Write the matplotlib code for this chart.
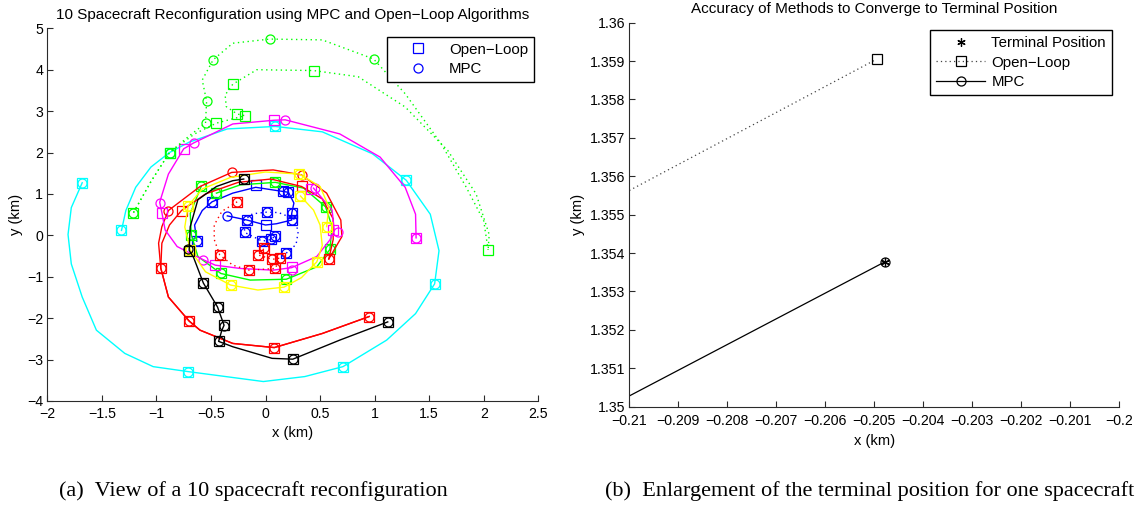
import matplotlib
matplotlib.use("Agg")
import matplotlib.pyplot as plt
from matplotlib.lines import Line2D

plt.rcParams['font.family'] = ['Liberation Sans', 'DejaVu Sans']
plt.rcParams['axes.unicode_minus'] = True

# ------------------------------------------------------------------
# Left panel data (km)
# ------------------------------------------------------------------
# spacecraft 1 (blue, solid)
blue1_path = [(-0.63, -0.14), (-0.65, 0.25), (-0.58, 0.60), (-0.49, 0.81), (-0.30, 1.02),
              (-0.09, 1.16), (0.16, 1.06), (0.21, 1.04), (0.26, 0.78), (0.24, 0.53),
              (0.24, 0.37), (0.10, 0.28), (0.00, 0.25), (-0.17, 0.37), (-0.35, 0.47)]
blue1_sq = [(-0.63, -0.14), (-0.49, 0.81), (-0.09, 1.22), (0.16, 1.06), (0.21, 1.04),
            (0.24, 0.53), (0.24, 0.37), (0.00, 0.25), (-0.17, 0.37)]
blue1_ci = [(-0.63, -0.14), (-0.49, 0.81), (0.16, 1.06), (0.21, 1.04), (0.24, 0.53),
            (0.24, 0.37), (-0.17, 0.37), (-0.35, 0.47)]

# spacecraft 2 (green, solid)
green2_path = [(-0.45, 1.02), (-0.23, 1.22), (0.09, 1.28), (0.35, 1.14), (0.55, 0.69),
               (0.61, 0.21), (0.59, -0.34), (0.47, -0.76), (0.19, -1.06), (-0.14, -1.08),
               (-0.41, -0.92), (-0.62, -0.51), (-0.68, 0.01), (-0.69, 0.53), (-0.59, 1.18)]
green2_sq = [(-0.45, 1.02), (0.09, 1.28), (0.55, 0.69), (0.59, -0.34), (0.19, -1.06),
             (-0.41, -0.92), (-0.68, 0.01), (-0.59, 1.18)]
green2_ci = [(-0.45, 1.02), (0.09, 1.28), (0.55, 0.69), (0.59, -0.34), (0.19, -1.06),
             (-0.41, -0.92), (-0.68, 0.01), (-0.59, 1.18)]

# spacecraft 3 (red, solid)
red3_ol_path = [(0.95, -1.96), (0.52, -2.37), (0.08, -2.71), (-0.30, -2.61), (-0.60, -2.29),
                (-0.70, -2.07), (-0.89, -1.49), (-0.96, -0.79), (-0.95, -0.19), (-0.88, 0.25),
                (-0.77, 0.60), (-0.55, 1.00), (-0.25, 1.28), (0.05, 1.36), (0.33, 1.18),
                (0.52, 0.88), (0.62, 0.40), (0.62, -0.10), (0.58, -0.57)]
red3_mpc_path = [(0.95, -1.96), (0.52, -2.37), (0.08, -2.71), (-0.30, -2.61), (-0.60, -2.29),
                 (-0.70, -2.07), (-0.89, -1.49), (-0.96, -0.79), (-0.98, -0.19), (-0.95, 0.21),
                 (-0.89, 0.60), (-0.60, 1.18), (-0.31, 1.52), (0.07, 1.58), (0.33, 1.46),
                 (0.56, 1.02), (0.69, 0.37), (0.70, -0.03), (0.58, -0.57)]
red3_sq = [(0.95, -1.96), (0.08, -2.71), (-0.70, -2.07), (-0.96, -0.79), (-0.77, 0.60),
           (0.33, 1.18), (0.58, -0.57)]
red3_ci = [(0.95, -1.96), (0.08, -2.71), (-0.70, -2.07), (-0.96, -0.79), (-0.89, 0.60),
           (-0.31, 1.52), (0.33, 1.46), (0.58, -0.57)]

# spacecraft 4 (cyan, solid)
cyan4_path = [(-1.68, 1.27), (-1.78, 0.67), (-1.81, 0.02), (-1.78, -0.69), (-1.68, -1.49),
              (-1.55, -2.29), (-1.29, -2.85), (-1.03, -3.17), (-0.71, -3.29), (-0.02, -3.53),
              (0.36, -3.41), (0.71, -3.17), (1.11, -2.53), (1.375, -1.89), (1.55, -1.17),
              (1.59, -0.37), (1.51, 0.51), (1.29, 1.33), (0.98, 1.97), (0.52, 2.50),
              (0.09, 2.63), (-0.35, 2.57), (-0.70, 2.25), (-0.88, 2.00), (-1.05, 1.65),
              (-1.19, 1.16), (-1.28, 0.60), (-1.32, 0.12)]
cyan4_sq = [(-1.68, 1.27), (-0.71, -3.29), (0.71, -3.17), (1.55, -1.17), (1.29, 1.33),
            (0.09, 2.63), (-0.88, 2.00), (-1.32, 0.12)]
cyan4_ci = [(-1.68, 1.27), (-0.71, -3.29), (0.71, -3.17), (1.55, -1.17), (1.29, 1.33),
            (0.09, 2.63), (-0.88, 2.00), (-1.32, 0.12)]

# spacecraft 5 (magenta, solid)
magenta5_path = [(1.38, -0.06), (1.375, 0.51), (1.28, 1.16), (1.05, 1.89), (0.68, 2.45),
                 (0.18, 2.79), (0.08, 2.78), (-0.30, 2.69), (-0.66, 2.23), (-0.75, 2.09),
                 (-0.89, 1.48), (-0.97, 0.80), (-0.95, 0.55), (-0.92, 0.13), (-0.81, -0.27),
                 (-0.57, -0.59), (-0.46, -0.72), (-0.23, -0.80), (0.07, -0.84), (0.24, -0.78),
                 (0.47, -0.51), (0.59, -0.11), (0.63, 0.13), (0.61, 0.61), (0.44, 1.14)]
magenta5_sq = [(1.38, -0.06), (0.08, 2.78), (-0.75, 2.09), (-0.95, 0.55), (-0.46, -0.72),
               (0.24, -0.76), (0.62, 0.13), (0.42, 1.12)]
magenta5_ci = [(1.38, -0.06), (0.18, 2.79), (-0.66, 2.23), (-0.97, 0.78), (-0.57, -0.59),
               (0.24, -0.84), (0.66, 0.07), (0.45, 1.14)]

# spacecraft 6 (yellow, solid)
yellow6_path = [(0.32, 0.95), (0.44, 0.61), (0.50, 0.25), (0.52, -0.25), (0.47, -0.64),
                (0.33, -1.02), (0.17, -1.25), (-0.07, -1.32), (-0.32, -1.20), (-0.55, -0.88),
                (-0.69, -0.35), (-0.74, 0.20), (-0.71, 0.71), (-0.58, 1.12), (-0.32, 1.40),
                (0.00, 1.53), (0.31, 1.48), (0.50, 1.18), (0.58, 0.69), (0.56, 0.21)]
yellow6_sq = [(0.32, 0.95), (0.47, -0.64), (0.17, -1.25), (-0.32, -1.20), (-0.69, -0.35),
              (-0.71, 0.71), (0.31, 1.48), (0.56, 0.21)]
yellow6_ci = [(0.32, 0.95), (0.47, -0.64), (0.17, -1.25), (-0.32, -1.20), (-0.69, -0.35),
              (-0.71, 0.71), (0.31, 1.48), (0.56, 0.21)]

# spacecraft 7 (black, solid)
black7_path = [(1.12, -2.09), (0.68, -2.53), (0.25, -2.99), (0.06, -2.97), (-0.30, -2.69),
               (-0.43, -2.56), (-0.40, -2.29), (-0.38, -2.17), (-0.44, -1.73), (-0.57, -1.15),
               (-0.66, -0.53), (-0.70, -0.36), (-0.69, 0.21), (-0.62, 0.86), (-0.45, 1.18),
               (-0.30, 1.32), (-0.20, 1.36)]
black7_sq = [(1.12, -2.09), (0.25, -2.99), (-0.43, -2.56), (-0.38, -2.17), (-0.44, -1.73),
             (-0.57, -1.15), (-0.70, -0.37), (-0.20, 1.36)]
black7_ci = [(1.12, -2.09), (0.25, -2.99), (-0.43, -2.56), (-0.38, -2.20), (-0.44, -1.73),
             (-0.57, -1.15), (-0.71, -0.33), (-0.20, 1.36)]

# spacecraft 8 (blue, dotted)
blue8_path = [(0.19, -0.43), (0.28, -0.22), (0.30, 0.10), (0.26, 0.40), (0.12, 0.55),
              (0.01, 0.56), (-0.12, 0.52), (-0.20, 0.35), (-0.19, 0.07), (-0.03, -0.14),
              (0.05, -0.10), (0.09, -0.01)]
blue8_sq = [(0.19, -0.43), (0.01, 0.56), (-0.19, 0.07), (-0.03, -0.14), (0.05, -0.10),
            (0.09, -0.01)]
blue8_ci = [(0.19, -0.43), (0.01, 0.56), (-0.19, 0.07), (-0.03, -0.14), (0.05, -0.10),
            (0.09, -0.01)]

# spacecraft 9 (green, dotted)
green9_ol_path = [(-1.21, 0.55), (-1.05, 1.30), (-0.88, 2.00), (-0.65, 2.45), (-0.45, 2.71),
                  (-0.19, 2.89), (-0.26, 2.93), (-0.36, 3.11), (-0.37, 3.39), (-0.30, 3.65),
                  (-0.08, 4.00), (0.44, 3.98), (0.85, 3.83), (1.28, 3.10), (1.67, 2.05),
                  (1.93, 1.00), (2.05, 0.02), (2.04, -0.35)]
green9_mpc_path = [(-1.21, 0.55), (-1.05, 1.30), (-0.88, 2.00), (-0.70, 2.40), (-0.55, 2.71),
                   (-0.54, 3.24), (-0.58, 3.75), (-0.48, 4.24), (-0.30, 4.64), (0.04, 4.74),
                   (0.52, 4.72), (0.99, 4.26), (1.28, 3.42), (1.61, 2.21), (1.84, 1.16),
                   (2.00, 0.35), (2.04, -0.35)]
green9_sq = [(-1.21, 0.55), (-0.88, 2.00), (-0.45, 2.71), (-0.19, 2.89), (-0.26, 2.93),
             (-0.30, 3.65), (0.44, 3.98), (2.04, -0.35)]
green9_ci = [(-1.21, 0.55), (-0.88, 2.00), (-0.55, 2.71), (-0.54, 3.24), (-0.48, 4.24),
             (0.04, 4.74), (0.99, 4.26)]

# spacecraft 10 (red, dotted)
red10_path = [(-0.26, 0.81), (-0.40, 0.58), (-0.47, 0.25), (-0.47, -0.10), (-0.42, -0.47),
              (-0.30, -0.72), (-0.15, -0.84), (0.09, -0.80), (0.13, -0.55), (0.06, -0.58),
              (-0.07, -0.47), (-0.01, -0.31)]
red10_sq = [(-0.26, 0.81), (-0.42, -0.47), (-0.15, -0.84), (0.09, -0.79), (0.13, -0.55),
            (0.06, -0.58), (-0.07, -0.47), (-0.01, -0.31)]
red10_ci = [(-0.26, 0.81), (-0.42, -0.47), (-0.15, -0.84), (0.09, -0.79), (0.13, -0.55),
            (0.06, -0.58), (-0.07, -0.47), (-0.01, -0.31)]

left_xticks = [-2, -1.5, -1, -0.5, 0, 0.5, 1, 1.5, 2, 2.5]
left_xticklabels = ['\u22122', '\u22121.5', '\u22121', '\u22120.5', '0', '0.5', '1', '1.5', '2', '2.5']
left_yticks = [-4, -3, -2, -1, 0, 1, 2, 3, 4, 5]
left_yticklabels = ['\u22124', '\u22123', '\u22122', '\u22121', '0', '1', '2', '3', '4', '5']

# ------------------------------------------------------------------
# Right panel data (km)
# ------------------------------------------------------------------
ol_zoom_x = [-0.21, -0.20495]
ol_zoom_y = [1.35563, 1.35905]
mpc_zoom_x = [-0.21, -0.20477]
mpc_zoom_y = [1.35028, 1.35378]
terminal_x = [-0.20477]
terminal_y = [1.35378]

right_xticks = [-0.21, -0.209, -0.208, -0.207, -0.206, -0.205, -0.204, -0.203, -0.202, -0.201, -0.2]
right_xticklabels = ['\u22120.21', '\u22120.209', '\u22120.208', '\u22120.207', '\u22120.206',
                     '\u22120.205', '\u22120.204', '\u22120.203', '\u22120.202', '\u22120.201',
                     '\u22120.2']
right_yticks = [1.35, 1.351, 1.352, 1.353, 1.354, 1.355, 1.356, 1.357, 1.358, 1.359, 1.36]
right_yticklabels = ['1.35', '1.351', '1.352', '1.353', '1.354', '1.355', '1.356', '1.357',
                     '1.358', '1.359', '1.36']

# ------------------------------------------------------------------
W, H = 1141, 512
fig = plt.figure(figsize=(W / 100, H / 100), dpi=100)
fig.patch.set_facecolor('white')

AXC = '#2b2b2b'
TICK_FS = 10.2
LABEL_FS = 10.6
TITLE_FS = 11
LEG_FS = 10.8
CAP_FS = 16


def style_axes(ax):
    for s in ('top', 'right'):
        ax.spines[s].set_visible(False)
    for s in ('left', 'bottom'):
        ax.spines[s].set_color(AXC)
        ax.spines[s].set_linewidth(0.8)
    ax.tick_params(direction='in', length=4.3, width=0.8, color=AXC,
                   labelsize=TICK_FS, labelcolor='black')


def legend_style(leg):
    fr = leg.get_frame()
    fr.set_edgecolor('black')
    fr.set_linewidth(1.0)


ax1 = fig.add_axes([47.3 / W, (H - 401) / H, 491 / W, 372.7 / H])
style_axes(ax1)
ax1.tick_params(axis='x', pad=4)
ax1.tick_params(axis='y', pad=3)

LW = 1.0
MS = 7
MEW = 0.9


def xs(pts):
    return [p[0] for p in pts]


def ys(pts):
    return [p[1] for p in pts]


DOT = (0, (1, 2.5))
spacecraft = [
    ('#0000ff', '-', [blue1_path], blue1_sq, blue1_ci),
    ('#00ff00', '-', [green2_path], green2_sq, green2_ci),
    ('#ff0000', '-', [red3_ol_path, red3_mpc_path], red3_sq, red3_ci),
    ('#00ffff', '-', [cyan4_path], cyan4_sq, cyan4_ci),
    ('#ff00ff', '-', [magenta5_path], magenta5_sq, magenta5_ci),
    ('#ffff00', '-', [yellow6_path], yellow6_sq, yellow6_ci),
    ('#000000', '-', [black7_path], black7_sq, black7_ci),
    ('#0000ff', DOT, [blue8_path], blue8_sq, blue8_ci),
    ('#00ff00', DOT, [green9_ol_path, green9_mpc_path], green9_sq, green9_ci),
    ('#ff0000', DOT, [red10_path], red10_sq, red10_ci),
]

for color, ls, paths, sq, ci in spacecraft:
    for p in paths:
        ax1.plot(xs(p), ys(p), color=color, ls=ls, lw=LW)
    ax1.plot(xs(sq), ys(sq), ls='none', marker='s', ms=MS, mfc='none', mec=color, mew=MEW)
    ax1.plot(xs(ci), ys(ci), ls='none', marker='o', ms=MS - 0.5, mfc='none', mec=color, mew=MEW)

ax1.set_xlim(-2, 2.5)
ax1.set_ylim(-4, 5)
ax1.set_xticks(left_xticks)
ax1.set_xticklabels(left_xticklabels)
ax1.set_yticks(left_yticks)
ax1.set_yticklabels(left_yticklabels)
ax1.set_xlabel('x (km)', fontsize=LABEL_FS, labelpad=4)
ax1.set_ylabel('y (km)', fontsize=LABEL_FS, labelpad=3)
ax1.set_title('10 Spacecraft Reconfiguration using MPC and Open\u2212Loop Algorithms',
              fontsize=TITLE_FS, pad=7)

h1 = [Line2D([], [], ls='none', marker='s', ms=MS, mfc='none', mec='#0000ff', mew=MEW),
      Line2D([], [], ls='none', marker='o', ms=MS - 0.5, mfc='none', mec='#0000ff', mew=MEW)]
leg1 = ax1.legend(h1, ['Open\u2212Loop', 'MPC'], loc='upper right',
                  bbox_to_anchor=((534 - 47.3) / 491, (401 - 36.7) / 372.7),
                  borderaxespad=0, fontsize=LEG_FS, handlelength=3.3, handletextpad=0.4,
                  borderpad=0.4, labelspacing=0.35, fancybox=False, framealpha=1)
legend_style(leg1)

# ------------------------------------------------------------------
ax2 = fig.add_axes([629.3 / W, (H - 406.7) / H, 489.7 / W, 384 / H])
style_axes(ax2)
ax2.tick_params(axis='x', pad=5.5)
ax2.tick_params(axis='y', pad=3)

ax2.plot(ol_zoom_x, ol_zoom_y, color='#444444', ls=DOT, lw=0.9)
ax2.plot(ol_zoom_x[-1:], ol_zoom_y[-1:], ls='none', marker='s', ms=7, mfc='none', mec='k', mew=0.9)
ax2.plot(mpc_zoom_x, mpc_zoom_y, color='k', ls='-', lw=0.9)
ax2.plot(mpc_zoom_x[-1:], mpc_zoom_y[-1:], ls='none', marker='o', ms=6.5, mfc='none', mec='k', mew=0.9)
ax2.plot(terminal_x, terminal_y, ls='none', marker=(6, 2, 0), ms=6, color='k', mew=0.9)

ax2.set_xlim(-0.21, -0.2)
ax2.set_ylim(1.35, 1.36)
ax2.set_xticks(right_xticks)
ax2.set_xticklabels(right_xticklabels)
ax2.set_yticks(right_yticks)
ax2.set_yticklabels(right_yticklabels)
ax2.set_xlabel('x (km)', fontsize=LABEL_FS, labelpad=4)
ax2.set_ylabel('y (km)', fontsize=LABEL_FS, labelpad=3)
ax2.set_title('Accuracy of Methods to Converge to Terminal Position', fontsize=TITLE_FS, pad=7)

h2 = [Line2D([], [], ls='none', marker=(6, 2, 0), ms=6, color='k', mew=0.9),
      Line2D([], [], color='#444444', ls=DOT, lw=0.9, marker='s', ms=7,
             mfc='none', mec='k', mew=0.9),
      Line2D([], [], color='k', ls='-', lw=0.9, marker='o', ms=6.5, mfc='none', mec='k', mew=0.9)]
leg2 = ax2.legend(h2, ['Terminal Position', 'Open\u2212Loop', 'MPC'], loc='upper right',
                  bbox_to_anchor=((1112 - 629.3) / 489.7, (406.7 - 30.3) / 384),
                  borderaxespad=0, fontsize=LEG_FS, handlelength=3.3, handletextpad=0.4,
                  borderpad=0.4, labelspacing=0.35, fancybox=False, framealpha=1)
legend_style(leg2)

# ------------------------------------------------------------------
fig.text(253 / W, 1 - 491 / H, '(a)  View of a 10 spacecraft reconfiguration',
         family=['Liberation Serif', 'DejaVu Serif'], fontsize=CAP_FS, ha='center', va='center')
fig.text(870 / W, 1 - 491 / H, '(b)  Enlargement of the terminal position for one spacecraft',
         family=['Liberation Serif', 'DejaVu Serif'], fontsize=CAP_FS, ha='center', va='center')

fig.savefig('out.png', dpi=100, facecolor='white')
